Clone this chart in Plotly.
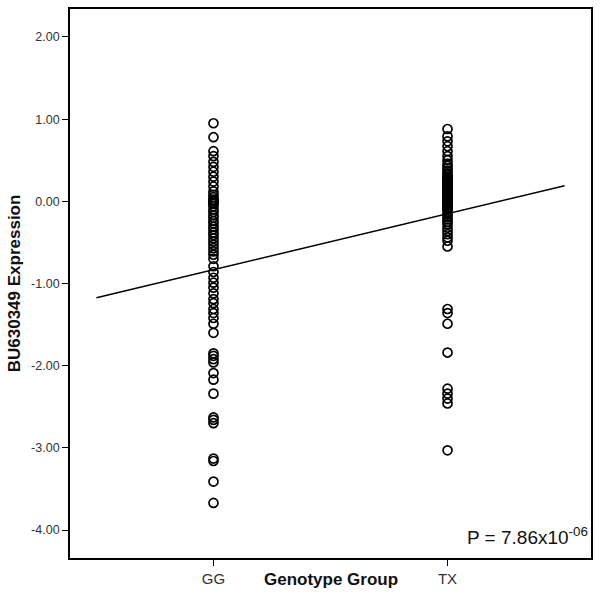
import numpy as np
import plotly.graph_objects as go

categories = ["GG", "TX"]
category_codes = [1, 2]

gg_values = [0.95, 0.78, 0.61, 0.55, 0.48, 0.42, 0.36, 0.30, 0.24, 0.18,
             0.12, 0.08, 0.05, 0.02, 0.01, 0.00, -0.02, -0.03, -0.06, -0.10,
             -0.13, -0.17, -0.20, -0.24, -0.27, -0.31, -0.34, -0.38, -0.41,
             -0.45, -0.49, -0.53, -0.57, -0.61, -0.65, -0.70,
             -0.79, -0.86, -0.93, -0.99, -1.05, -1.12, -1.19, -1.24, -1.31,
             -1.36, -1.42,
             -1.49, -1.60, -1.85, -1.88, -1.92, -1.96, -2.09, -2.17, -2.34,
             -2.63, -2.66, -2.70, -3.13, -3.16, -3.41, -3.67]

tx_values = [0.88, 0.79, 0.73, 0.67, 0.61, 0.55, 0.50, 0.46, 0.43, 0.40,
             0.37, 0.34, 0.32, 0.30, 0.29, 0.28, 0.27, 0.26, 0.25, 0.24,
             0.23, 0.22, 0.21, 0.20, 0.19, 0.18, 0.17, 0.16, 0.15, 0.14,
             0.13, 0.12, 0.11, 0.10, 0.09, 0.08, 0.07, 0.06, 0.05, 0.04,
             0.03, 0.02, 0.01, 0.00, -0.01, -0.02, -0.03, -0.04, -0.05,
             -0.07, -0.09, -0.10,
             -0.13, -0.16, -0.19, -0.22, -0.25, -0.28, -0.32, -0.36, -0.40,
             -0.44, -0.48, -0.55,
             -1.31, -1.36, -1.49, -1.84, -2.28, -2.34, -2.40, -2.46, -3.03]

y_ticks = [2, 1, 0, -1, -2, -3, -4]
p_label = "P = 7.86x10<sup>-06</sup>"
x_title = "Genotype Group"
y_title = "BU630349 Expression"
fit_span = [0.5, 2.5]

xs = [category_codes[0]] * len(gg_values) + [category_codes[1]] * len(tx_values)
ys = gg_values + tx_values
slope, intercept = np.polyfit(xs, ys, 1)
fit_x = np.array(fit_span)
fit_y = intercept + slope * fit_x

FONT = "Liberation Sans, Arial, sans-serif"

fig = go.Figure()
fig.add_trace(go.Scatter(
    x=fit_x, y=fit_y, mode="lines",
    line=dict(color="black", width=1.5), hoverinfo="skip", showlegend=False))
fig.add_trace(go.Scatter(
    x=xs, y=ys, mode="markers",
    marker=dict(symbol="circle-open", size=9, color="black", line=dict(width=1.7)),
    showlegend=False))

fig.update_layout(
    width=600, height=596,
    margin=dict(l=70, r=8, t=7, b=38),
    paper_bgcolor="white", plot_bgcolor="white",
    font=dict(family=FONT, color="#222"),
    xaxis=dict(
        range=[0.387, 2.613], tickvals=category_codes, ticktext=categories,
        showgrid=False, zeroline=False, showline=True, mirror=True,
        linecolor="black", linewidth=1.8, ticks="outside", ticklen=6,
        tickcolor="black", tickwidth=1.3, tickfont=dict(size=15, family=FONT, color="#333")),
    yaxis=dict(
        range=[-4.34, 2.34], tickvals=y_ticks,
        ticktext=[f"{v:.2f}" for v in y_ticks],
        showgrid=False, zeroline=False, showline=True, mirror=True,
        linecolor="black", linewidth=1.8, ticks="outside", ticklen=6,
        tickcolor="black", tickwidth=1.3, tickfont=dict(size=12.5, family=FONT, color="#333")),
    annotations=[
        dict(text="<b>" + x_title + "</b>", xref="paper", yref="paper",
             x=0.5, y=-0.04, xanchor="center", yanchor="middle", showarrow=False,
             font=dict(size=17, family=FONT, color="#111")),
        dict(text="<b>" + y_title + "</b>", xref="paper", yref="paper",
             x=-0.106, y=0.5, xanchor="center", yanchor="middle", textangle=-90,
             showarrow=False, font=dict(size=17, family=FONT, color="#111")),
        dict(text=p_label, xref="paper", yref="paper",
             x=0.998, y=0.015, xanchor="right", yanchor="bottom", showarrow=False,
             font=dict(size=19, family=FONT, color="#111")),
    ],
)

fig.write_html("out.html", config={"displayModeBar": False},
               post_script="document.body.style.margin='0';")
